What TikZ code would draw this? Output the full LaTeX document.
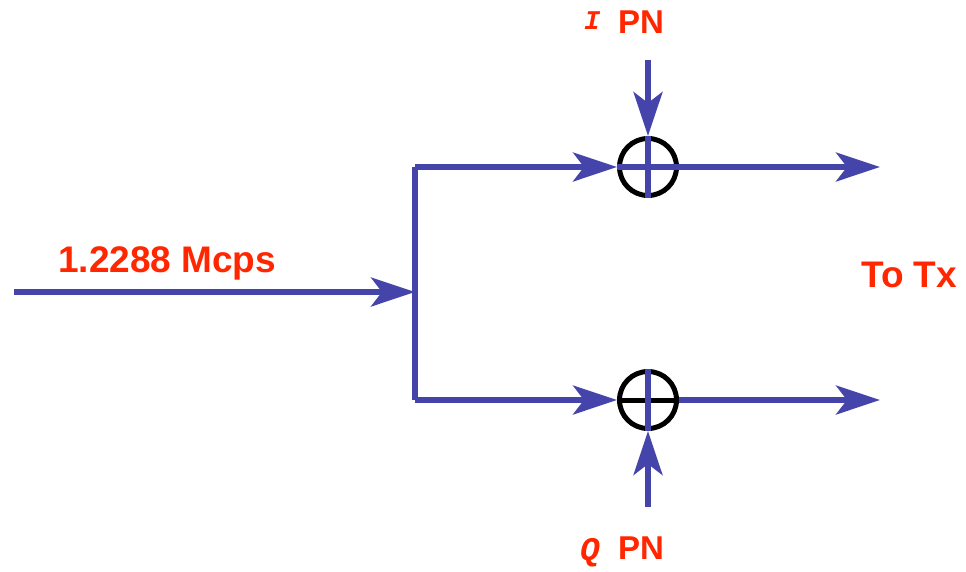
\documentclass[tikz,border=0pt]{standalone}
\usepackage{fontspec}
\setmainfont{Liberation Sans}
\newfontfamily\monoit{Liberation Mono}
\usetikzlibrary{arrows.meta}
\definecolor{flowblue}{RGB}{68,68,170}
\definecolor{labred}{RGB}{255,38,0}
\tikzset{
  flow/.style={draw=flowblue, line width=5.4pt},
  arr/.style={-{Stealth[length=44pt,width=29pt,inset=11pt]}},
  summer/.style={circle, draw=black, line width=5pt, minimum size=57pt, inner sep=0pt},
  lab/.style={text=labred, font=\bfseries\fontsize{37}{40}\selectfont, inner sep=0pt, anchor=base west},
  pnlab/.style={text=labred, font=\bfseries\fontsize{33}{36}\selectfont, inner sep=0pt, anchor=base west},
}
\begin{document}
\begin{tikzpicture}[x=1pt,y=-1pt]
\useasboundingbox (0,0) rectangle (966,571);
% junction points
\coordinate (in) at (14,292);
\coordinate (j) at (415,292);
\coordinate (jt) at (415,167);
\coordinate (jb) at (415,400);
\coordinate (o1) at (880,167);
\coordinate (o2) at (880,400);
\coordinate (p1) at (648,60);
\coordinate (p2) at (648,507);
% summers
\node[summer] (s1) at (648,167) {};
\node[summer] (s2) at (648,400) {};
% connectors
\draw[flow,arr] (in) -- (j);
\draw[flow] (jt) -- (jb);
\draw[flow,arr] (jt) -- (s1.west);
\draw[flow,arr] (jb) -- (s2.west);
\draw[flow] (s1.west) -- (s1.east);
\draw[flow,arr] (s1.east) -- (o1);
\draw[flow,arr] (s2.east) -- (o2);
\draw[line width=5pt] (s2.west) -- (s2.east);
\draw[flow,arr] (p1) -- (s1.north);
\draw[flow] (s1.north) -- (s1.south);
\draw[flow,arr] (p2) -- (s2.south);
\draw[flow] (s2.north) -- (s2.south);
% labels
\node[lab] (rate) at (58,272) {1.2288 Mcps};
\node[lab] (totx) at (861,287) {To Tx};
\node[text=labred, font=\monoit\bfseries\itshape\fontsize{27}{28}\selectfont, inner sep=0pt, anchor=base west] (ii) at (584,29) {I};
\node[pnlab] (ipn) at (618,33) {PN};
\node[text=labred, font=\monoit\bfseries\itshape\fontsize{33}{34}\selectfont, inner sep=0pt, anchor=base west] (qq) at (580,560) {Q};
\node[pnlab] (qpn) at (618,559) {PN};
\end{tikzpicture}
\end{document}
